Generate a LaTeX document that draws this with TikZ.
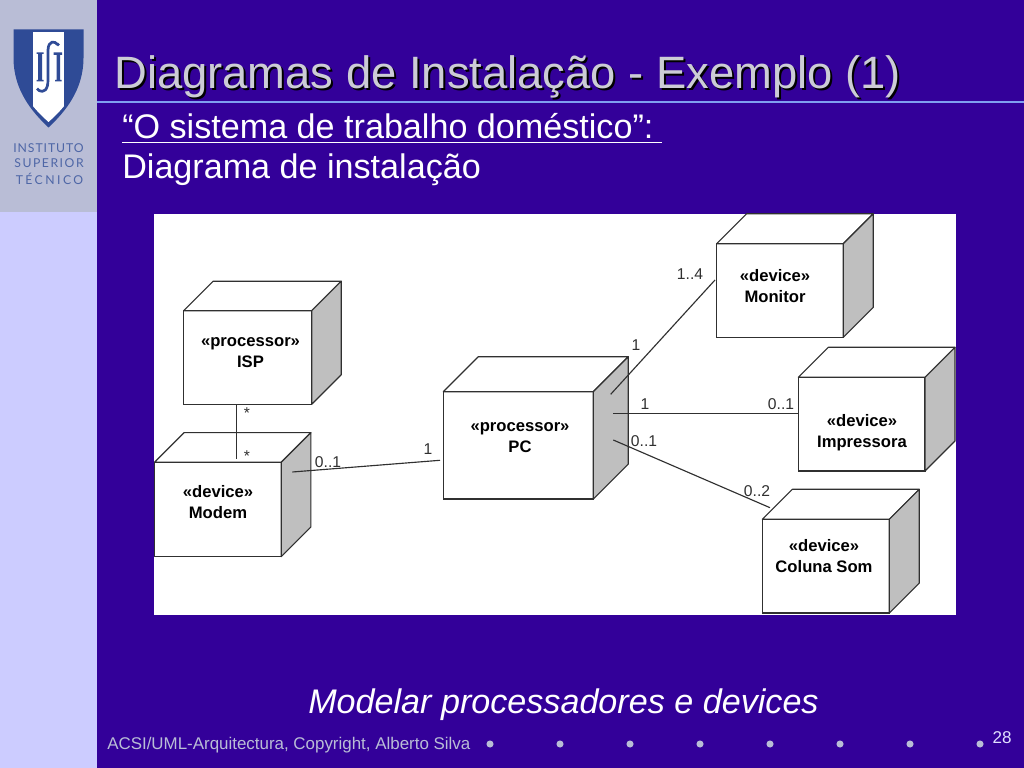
\documentclass[tikz,border=0pt]{standalone}
\usepackage{fontspec}
\setmainfont{Liberation Sans}
\newfontfamily\logofont{Lato}
\usetikzlibrary{calc}
\definecolor{slidebg}{HTML}{330099}
\definecolor{stripbg}{HTML}{CCCCFF}
\definecolor{logobg}{HTML}{B9BDD6}
\definecolor{logoblue}{HTML}{2F4B96}
\definecolor{titlegray}{HTML}{CCCCD6}
\definecolor{rulegray}{HTML}{7F9FF0}
\definecolor{linegray}{HTML}{303030}
\def\u{0.703125pt}
\tikzset{
  cubeface/.style={draw=linegray,fill=white,line width=0.8pt,inner sep=0pt,outer sep=0pt,anchor=north west},
  cubeline/.style={draw=linegray,line width=0.8pt,line join=round},
  cubetext/.style={align=center,font=\fontsize{11.7}{14.8}\selectfont\bfseries,text=black,inner sep=0pt},
  link/.style={draw=linegray,line width=0.8pt},
  mult/.style={font=\fontsize{11}{13}\selectfont,text=linegray,inner sep=0pt},
  logotext/.style={font=\fontsize{8.6}{11}\logofont,text=logoblue!85!white,inner sep=0pt},
  dot/.style={circle,fill=logobg,inner sep=0pt,minimum size=5pt},
}
\newcommand\cubebox[6]{
  \node[cubeface,minimum width=#4*\u,minimum height=#5*\u] (#1) at (#2,#3) {};
  \draw[cubeline,fill=white] (#1.north west) -- ++(#6,-#6) -- ++(#4,0) -- (#1.north east) -- cycle;
  \draw[cubeline,fill=black!25] (#1.north east) -- ++(#6,-#6) -- ++(0,#5) -- (#1.south east) -- cycle;
}
\begin{document}
\begin{tikzpicture}[x=\u,y=-\u]
        \useasboundingbox (0,0) rectangle (1024,768);
        % background
        \fill[slidebg] (0,0) rectangle (1024,768);
        \fill[stripbg] (0,0) rectangle (97,768);
        \fill[logobg] (0,0) rectangle (97,212);
        % shield
        \fill[logoblue] (13.5,29.5) -- (83.5,29.5) -- (83.5,58) .. controls (83.5,90) and (65,112) .. (48.5,127.5) .. controls (32,112) and (13.5,90) .. (13.5,58) -- cycle;
        \begin{scope}
            \clip (13.5,29.5) -- (83.5,29.5) -- (83.5,58) .. controls (83,88) and (63,109) .. (48.5,122) .. controls (34,109) and (14,88) .. (13.5,58) -- cycle;
            \fill[white] (33,32) rectangle (64,130);
        \end{scope}
        \fill[logoblue] (38,53) rectangle (42,81) (36.5,52.5) rectangle (43.5,54) (36.5,80) rectangle (43.5,81.5);
        \fill[logoblue] (53.5,52.5) rectangle (62,55) (56.5,53) rectangle (60,81) (55,80) rectangle (61.5,81.5);
        \draw[logoblue,line width=1.9pt] (57.5,44.5) .. controls (55,41) and (48.5,40) .. (48,50) -- (48,80) .. controls (48,90) and (44,93) .. (38.5,90.5);
        \fill[logoblue] (58,44.5) circle (1.8) (38,89.5) circle (1.8);
        \node[logotext,font=\fontsize{8.6}{11}\logofont\addfontfeature{LetterSpace=7.5}] (ist1) at (48.5,148) {INSTITUTO};
        \node[logotext,font=\fontsize{8.6}{11}\logofont\addfontfeature{LetterSpace=12.5}] (ist2) at (49,163.5) {SUPERIOR};
        \node[logotext,font=\fontsize{8.6}{11}\logofont\addfontfeature{LetterSpace=20}] (ist3) at (49.5,179) {TÉCNICO};
        % title
        \node[anchor=base west,inner sep=0pt,font=\fontsize{31.9}{38}\selectfont,text=black] (shadow) at (116,91) {Diagramas de Instalação - Exemplo (1)};
        \node[anchor=base west,inner sep=0pt,font=\fontsize{31.9}{38}\selectfont,text=titlegray] (title) at (114,89) {Diagramas de Instalação - Exemplo (1)};
        \draw[rulegray,line width=1.5pt] (97,102) -- (1024,102);
        \node[anchor=base west,inner sep=0pt,font=\fontsize{24}{28}\selectfont,text=white] (sub1) at (122,139) {“O sistema de trabalho doméstico”:};
        \draw[white,line width=1.4pt] (sub1.base west)++(0,3.5) -- ($(sub1.base east)+(8.5,3.5)$);
        \node[anchor=base west,inner sep=0pt,font=\fontsize{24}{28}\selectfont,text=white] (sub2) at (122,179) {Diagrama de instalação};
        % panel
        \fill[white] (154,214) rectangle (956,615);
        \begin{scope}
            \clip (154,214) rectangle (956,615);
            \cubebox{ISP}{183.7}{310.7}{128}{93.6}{29.5}
            \cubebox{Modem}{154.5}{462.3}{126.7}{94.4}{29.7}
            \cubebox{PC}{443.3}{391.7}{150}{107.3}{35}
            \cubebox{Monitor}{716.7}{243.7}{126.6}{93.6}{30}
            \cubebox{Impressora}{798.3}{377.3}{126.7}{93.7}{30}
            \cubebox{Coluna}{762.3}{519.3}{127}{93.7}{30}
        \end{scope}
        \node[cubetext] (ISPtext) at (250.5,353) {«processor»\\ISP};
        \node[cubetext] (Modemtext) at (218,502) {«device»\\Modem};
        \node[cubetext] (PCtext) at (520,437.5) {«processor»\\PC};
        \node[cubetext] (Monitortext) at (775,286.5) {«device»\\Monitor};
        \node[cubetext] (Impressoratext) at (862,433) {«device»\\Impressora};
        \node[cubetext] (Colunatext) at (824,556.5) {«device»\\Coluna Som};
        % connector ends
        \coordinate (a1) at (236.7,404.3);
        \coordinate (a2) at (236.7,459);
        \coordinate (b1) at (292.3,472);
        \coordinate (b2) at (440,460.3);
        \coordinate (c1) at (610.7,394.3);
        \coordinate (c2) at (715,280);
        \coordinate (d1) at (613.3,413.7);
        \coordinate (d2) at (798.3,413.7);
        \coordinate (e1) at (613.3,440);
        \coordinate (e2) at (770,507.7);
        \draw[link] (a1) -- (a2);
        \draw[link] (b1) -- (b2);
        \draw[link] (c1) -- (c2);
        \draw[link] (d1) -- (d2);
        \draw[link] (e1) -- (e2);
        \node[mult] (m1) at (247,413) {*};
        \node[mult] (m2) at (247,456) {*};
        \node[mult] (m3) at (328,462) {0..1};
        \node[mult] (m4) at (428,449) {1};
        \node[mult] (m5) at (690,274) {1..4};
        \node[mult] (m6) at (636,345) {1};
        \node[mult] (m7) at (645,404) {1};
        \node[mult] (m8) at (781,404) {0..1};
        \node[mult] (m9) at (644,441) {0..1};
        \node[mult] (m10) at (757,491) {0..2};
        % bottom
        \node[anchor=base west,inner sep=0pt,font=\fontsize{24}{28}\selectfont\itshape,text=white] (note) at (308,713) {Modelar processadores e devices};
        \node[anchor=base west,inner sep=0pt,font=\fontsize{11.9}{14}\selectfont,text=logobg] (foot) at (107,749) {ACSI/UML-Arquitectura, Copyright, Alberto Silva};
        \node[anchor=base,inner sep=0pt,font=\fontsize{12}{14}\selectfont,text=stripbg!60!white] (page) at (1002,743) {28};
        \node[dot] (d1n) at (490,744) {};
        \node[dot] (d2n) at (560,744) {};
        \node[dot] (d3n) at (630,744) {};
        \node[dot] (d4n) at (700,744) {};
        \node[dot] (d5n) at (770,744) {};
        \node[dot] (d6n) at (840,744) {};
        \node[dot] (d7n) at (910,744) {};
        \node[dot] (d8n) at (980,744) {};
\end{tikzpicture}
\end{document}
